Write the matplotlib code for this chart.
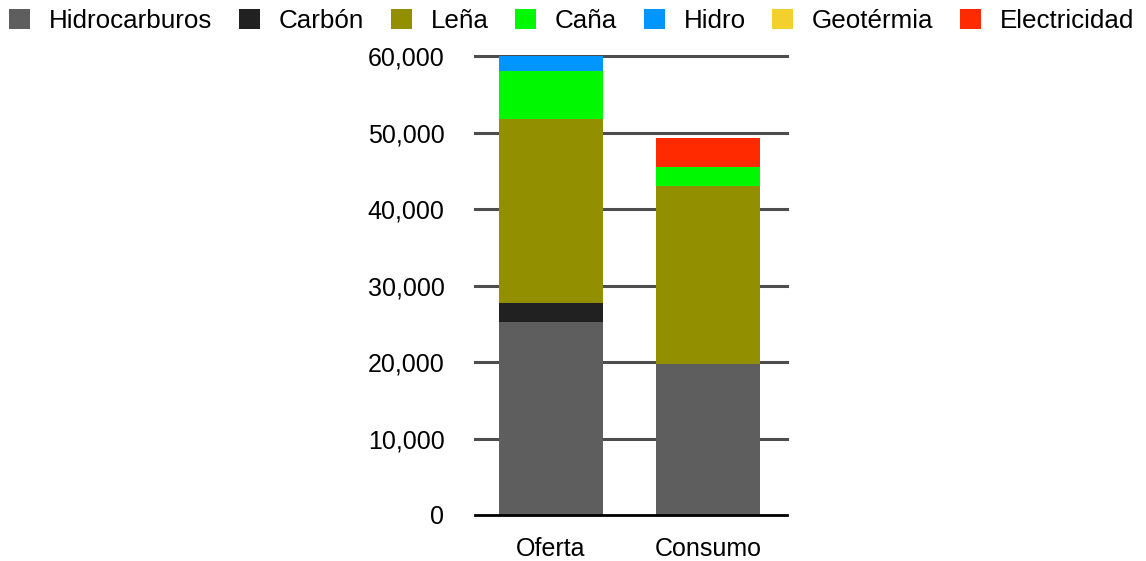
import matplotlib
matplotlib.use("Agg")
import matplotlib.pyplot as plt
from matplotlib.ticker import FuncFormatter

plt.rcParams["font.family"] = ["Liberation Sans", "DejaVu Sans"]

# Energy balance (stacked by source)
categories = ["Oferta", "Consumo"]
sources = ["Hidrocarburos", "Carbón", "Leña", "Caña", "Hidro", "Geotérmia", "Electricidad"]
hidrocarburos = [25250, 19800]
carbon = [2500, 0]
lena = [24100, 23250]
cana = [6250, 2500]
hidro = [2000, 0]
geotermia = [0, 0]
electricidad = [0, 3800]
y_ticks = [0, 10000, 20000, 30000, 40000, 50000, 60000]

series = [hidrocarburos, carbon, lena, cana, hidro, geotermia, electricidad]
colors = ["#5e5e5e", "#212121", "#929000", "#00f900", "#0096ff", "#f2d02e", "#ff2a00"]

fig = plt.figure(figsize=(11.46, 5.61), dpi=100)
ax = fig.add_axes([475 / 1146, 46 / 561, 312 / 1146, 458.5 / 561])

x = list(range(len(categories)))
bottom = [0] * len(categories)
for name, vals, col in zip(sources, series, colors):
    ax.bar(x, vals, bottom=bottom, width=0.662, color=col, label=name,
           zorder=3, clip_on=False, linewidth=0)
    bottom = [b + v for b, v in zip(bottom, vals)]

ax.set_xlim(-0.484, 1.503)
ax.set_ylim(0, 60000)
ax.set_yticks(y_ticks)
ax.yaxis.set_major_formatter(FuncFormatter(lambda v, p: f"{int(v):,}"))
ax.set_xticks(x)
ax.set_xticklabels(categories)

for t in y_ticks[1:]:
    ax.axhline(t, color="#4d4d4d", lw=2.2, zorder=1, clip_on=False)

for s in ["top", "right", "left"]:
    ax.spines[s].set_visible(False)
ax.spines["bottom"].set_color("black")
ax.spines["bottom"].set_linewidth(2)
ax.spines["bottom"].set_zorder(4)

ax.tick_params(axis="y", length=0, pad=22, labelsize=18)
ax.tick_params(axis="x", length=0, pad=16, labelsize=18)

fig.legend(loc="upper left", bbox_to_anchor=(9 / 1146, 1 - 9 / 561), ncol=7,
           frameon=False, fontsize=18.7, handlelength=0.8, handleheight=0.8,
           handletextpad=0.73, columnspacing=1.03, borderpad=0, borderaxespad=0)

fig.savefig("out.png", dpi=100, facecolor="white")
